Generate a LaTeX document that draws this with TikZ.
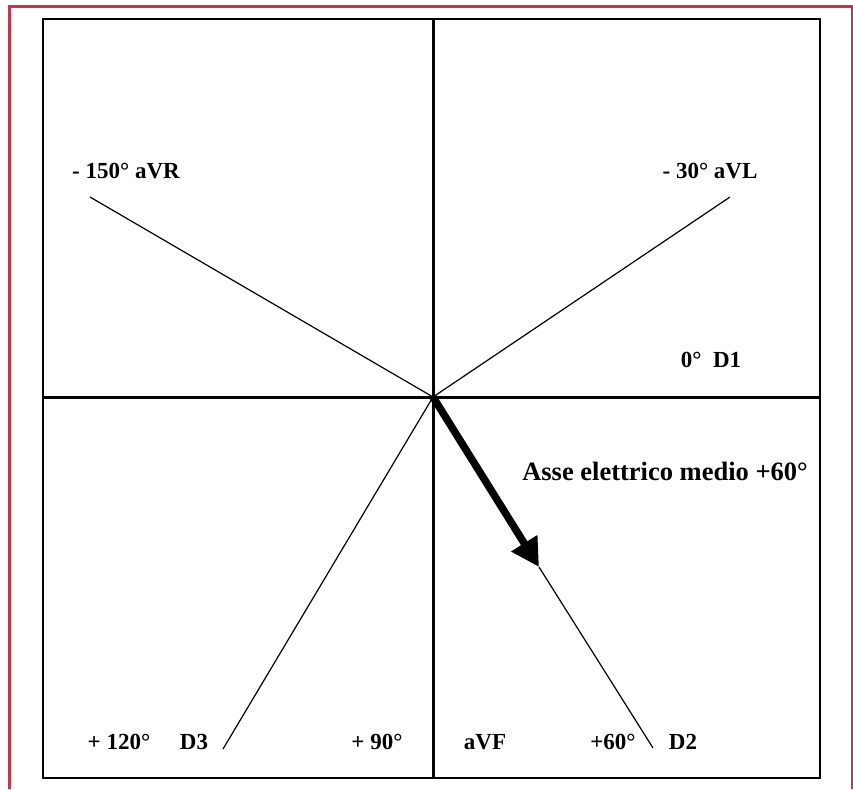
\documentclass[tikz,border=0pt]{standalone}
\usepackage{fontspec}
\setmainfont{Liberation Serif}
\usetikzlibrary{arrows.meta}
\definecolor{framered}{HTML}{C8324F}
\begin{document}
\begin{tikzpicture}[x=1pt,y=-1pt,
  lbl/.style={font=\fontsize{23}{26}\selectfont\bfseries, anchor=base, inner sep=0pt},
  biglbl/.style={lbl, font=\fontsize{26.5}{30}\selectfont\bfseries},
  thinline/.style={line width=1.2pt},
  axisline/.style={line width=3pt},
  boxline/.style={line width=2pt}]
\useasboundingbox (0,0) rectangle (853,789);
% outer red frame
\draw[framered, line width=3pt] (9.5,789) -- (9.5,6.5) -- (853,6.5);
\draw[framered, line width=1.5pt] (852,6.5) -- (852,789);
% black box
\draw[boxline] (43,19) rectangle (820,778);
% centre and ends
\coordinate (O) at (433,397);
\coordinate (L) at (43,397);
\coordinate (R) at (820,397);
\coordinate (T) at (433,19);
\coordinate (B) at (433,778);
\coordinate (avr) at (90,197);
\coordinate (avl) at (730,197);
\coordinate (d3) at (223,749);
\coordinate (d2) at (653,748);
\coordinate (tip) at (539,567);
% axes
\draw[axisline] (L) -- (R);
\draw[axisline] (T) -- (B);
% lead lines
\draw[thinline] (O) -- (avr);
\draw[thinline] (O) -- (avl);
\draw[thinline] (O) -- (d3);
\draw[thinline] (tip) -- (d2);
% mean axis arrow
\draw[line width=7.5pt, -{Triangle[length=28pt,width=29pt]}] (O) -- (tip);
% labels
\node[lbl] (lavr) at (126,178) {- 150° aVR};
\node[lbl] (lavl) at (710,178) {- 30° aVL};
\node[lbl] (ld1) at (711,367) {0°\ \ D1};
\node[biglbl] (lasse) at (665,480) {Asse elettrico medio +60°};
\node[lbl] (l120) at (119,749) {+ 120°};
\node[lbl] (ld3) at (194,749) {D3};
\node[lbl] (l90) at (377,749) {+ 90°};
\node[lbl] (lavf) at (485,749) {aVF};
\node[lbl] (l60) at (613,749) {+60°};
\node[lbl] (ld2) at (683,749) {D2};
\end{tikzpicture}
\end{document}
